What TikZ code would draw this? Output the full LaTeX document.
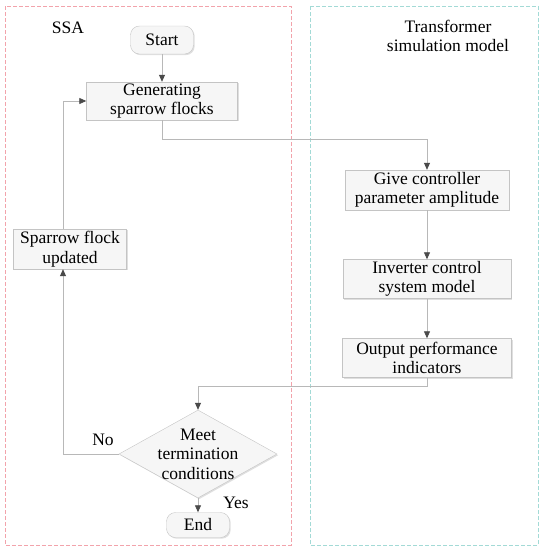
\documentclass[tikz,border=0pt]{standalone}
\usepackage{fontspec}
\setmainfont{Liberation Serif}
\usepackage{tikz}
\usetikzlibrary{arrows.meta,positioning,shapes.geometric,shadows}
\definecolor{pinkline}{HTML}{F2A3AB}
\definecolor{tealline}{HTML}{A3DAD6}
\definecolor{boxline}{HTML}{C4C4C4}
\definecolor{linkgray}{HTML}{B8B8B8}
\definecolor{tipgray}{HTML}{4A4A4A}

\begin{document}
\begin{tikzpicture}[x=1pt,y=-1pt,
  font=\fontsize{17.5}{19.5}\selectfont,
  box/.style={draw=boxline,fill=gray!7,align=center,inner sep=1pt,
              drop shadow={opacity=0.25,shadow xshift=1.2pt,shadow yshift=-1.2pt}},
  term/.style={box,rounded corners=9pt,minimum height=28pt},
  check/.style={diamond,draw=boxline,fill=gray!7,aspect=1.8,align=center,inner sep=-5pt,
              drop shadow={opacity=0.25,shadow xshift=1.2pt,shadow yshift=-1.2pt}},
  region/.style={dash pattern=on 4pt off 2pt,line width=0.6pt},
  arr/.style={draw=linkgray,line width=0.8pt,-{Triangle[length=7pt,width=6pt,fill=tipgray,color=tipgray]}}
]
\useasboundingbox (0,0) rectangle (543,550);
% two dashed regions
\draw[region,draw=pinkline] (5,6) rectangle (291,545);
\draw[region,draw=tealline] (310,6) rectangle (538,545);
\node (ssa) at (68,28) {SSA};
\node[align=center] (tsm) at (448,36) {Transformer\\simulation model};

% SSA side
\node[term,minimum width=63pt] (start) at (162,40) {Start};
\node[box,minimum width=151pt,minimum height=38pt] (gen) at (162,101) {Generating\\sparrow flocks};
\node[box,minimum width=113pt,minimum height=40pt] (upd) at (70,249) {Sparrow flock\\updated};
\node[check,minimum width=158pt,minimum height=88pt] (meet) at (198,454) {Meet\\termination\\conditions};
\node[term,minimum width=63pt,minimum height=25pt] (end) at (198,525) {End};
\coordinate (lx) at (63,0);

% transformer side
\node[box,minimum width=164pt,minimum height=40pt] (give) at (427,190) {Give controller\\parameter amplitude};
\node[box,minimum width=168pt,minimum height=39pt] (inv) at (427,279) {Inverter control\\system model};
\node[box,minimum width=169pt,minimum height=39pt] (outp) at (427,358) {Output performance\\indicators};

% connectors
\draw[arr] (start)--(gen);
\draw[arr] (gen.south)--++(0,19)-|(give.north);
\draw[arr] (give)--(inv);
\draw[arr] (inv)--(outp);
\draw[arr] (outp.south)--++(0,9)-|(meet.north);
\draw[arr] (meet)--(end);
\draw[arr] (meet.west)-|(upd.south-|lx);
\draw[arr] (upd.north-|lx)|-(gen.west);
\node (no) at (103,440) {No};
\node (yes) at (236,503) {Yes};
\end{tikzpicture}
\end{document}
